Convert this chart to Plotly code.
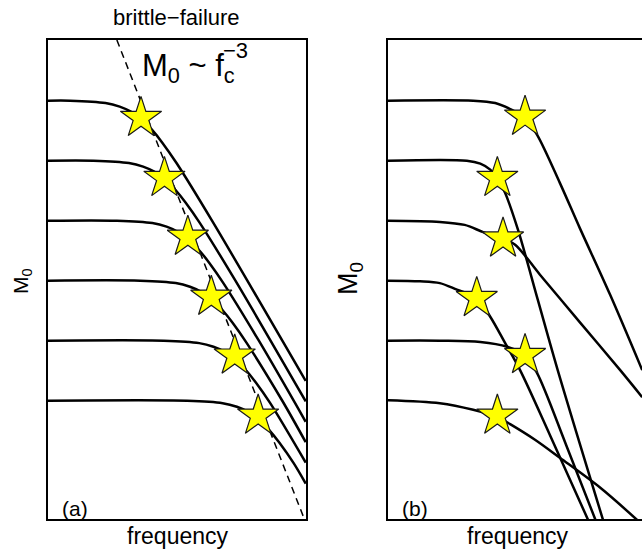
import plotly.graph_objects as go

# ---------------- data (x = log10 frequency, y = log10 M0) ----------------
# panel (a): brittle failure, self-similar spectra
a1_x = [0, 0.31, 0.81, 1.01, 1.16, 1.31, 1.46, 1.61, 1.81, 2.31, 3.63]
a1_y = [7.00, 7.00, 6.96, 6.90, 6.82, 6.70, 6.52, 6.30, 5.96, 5.00, 2.33]
a2_x = [0, 0.64, 1.14, 1.34, 1.49, 1.64, 1.79, 1.94, 2.14, 2.64, 3.63]
a2_y = [6.00, 6.00, 5.96, 5.90, 5.82, 5.70, 5.52, 5.30, 4.96, 4.00, 1.99]
a3_x = [0, 0.97, 1.47, 1.67, 1.82, 1.97, 2.12, 2.27, 2.47, 2.97, 3.63]
a3_y = [5.00, 5.00, 4.96, 4.90, 4.82, 4.70, 4.52, 4.30, 3.96, 3.00, 1.65]
a4_x = [0, 1.30, 1.80, 2.00, 2.15, 2.30, 2.45, 2.60, 2.80, 3.30, 3.63]
a4_y = [4.00, 4.00, 3.96, 3.90, 3.82, 3.70, 3.52, 3.30, 2.96, 2.00, 1.31]
a5_x = [0, 1.63, 2.13, 2.33, 2.48, 2.63, 2.78, 2.93, 3.13, 3.63]
a5_y = [3.00, 3.00, 2.96, 2.90, 2.82, 2.70, 2.52, 2.30, 1.96, 0.97]
a6_x = [0, 1.96, 2.46, 2.66, 2.81, 2.96, 3.11, 3.26, 3.46, 3.63]
a6_y = [2.00, 2.00, 1.96, 1.90, 1.82, 1.70, 1.52, 1.30, 0.96, 0.62]
a_star_x = [1.31, 1.64, 1.97, 2.30, 2.63, 2.96]
a_star_y = [6.71, 5.71, 4.73, 3.73, 2.75, 1.75]
dash_x = [0.97, 3.61]
dash_y = [8.01, 0.03]

# panel (b): scattered corner frequencies and fall-offs
b1_x = [0, 1.20, 1.51, 1.72, 1.93, 2.10, 2.42, 2.70, 3.13, 3.58]
b1_y = [7.00, 7.00, 6.96, 6.86, 6.71, 6.43, 5.63, 4.88, 3.76, 2.51]
b2_x = [0, 1.11, 1.30, 1.44, 1.54, 1.65, 1.83, 2.11, 2.39, 3.05]
b2_y = [6.00, 6.00, 5.95, 5.85, 5.71, 5.46, 4.85, 3.68, 2.51, -0.07]
b3_x = [0, 0.73, 1.08, 1.34, 1.62, 1.79, 2.14, 2.70, 3.27, 3.58]
b3_y = [5.00, 4.98, 4.93, 4.81, 4.70, 4.60, 4.10, 3.31, 2.51, 2.06]
b4_x = [0, 0.45, 0.73, 0.97, 1.25, 1.44, 1.65, 1.86, 2.28, 2.85]
b4_y = [4.00, 3.99, 3.96, 3.85, 3.71, 3.40, 2.96, 2.51, 1.43, -0.07]
b5_x = [0, 0.73, 1.30, 1.68, 1.93, 2.10, 2.51, 2.95]
b5_y = [3.00, 3.00, 2.98, 2.90, 2.76, 2.46, 1.26, -0.07]
b6_x = [0, 0.73, 1.20, 1.54, 1.72, 2.07, 2.42, 2.99, 3.55]
b6_y = [2.01, 1.96, 1.85, 1.73, 1.61, 1.35, 1.05, 0.55, -0.03]
b_star_x = [1.93, 1.54, 1.62, 1.25, 1.93, 1.54]
b_star_y = [6.73, 5.71, 4.70, 3.71, 2.76, 1.75]

# ---------------- figure ----------------
W, H = 642, 550
FONT = "Liberation Sans, Arial, Helvetica, sans-serif"
fig = go.Figure()

line_style = dict(color="black", width=2.5, shape="spline", smoothing=0.9)
star_style = dict(symbol="star", size=31, color="#FFFF00",
                  line=dict(color="#1a1a1a", width=1.2))

fig.add_trace(go.Scatter(x=dash_x, y=dash_y, mode="lines",
                         line=dict(color="black", width=1.5, dash="7px,5px"),
                         xaxis="x", yaxis="y", hoverinfo="skip"))
for xs, ys in [(a1_x, a1_y), (a2_x, a2_y), (a3_x, a3_y),
               (a4_x, a4_y), (a5_x, a5_y), (a6_x, a6_y)]:
    fig.add_trace(go.Scatter(x=xs, y=ys, mode="lines", line=line_style,
                             xaxis="x", yaxis="y", hoverinfo="skip"))
fig.add_trace(go.Scatter(x=a_star_x, y=a_star_y, mode="markers",
                         marker=star_style, xaxis="x", yaxis="y",
                         cliponaxis=False))

for xs, ys in [(b1_x, b1_y), (b2_x, b2_y), (b3_x, b3_y),
               (b4_x, b4_y), (b5_x, b5_y), (b6_x, b6_y)]:
    fig.add_trace(go.Scatter(x=xs, y=ys, mode="lines", line=line_style,
                             xaxis="x2", yaxis="y2", hoverinfo="skip"))
fig.add_trace(go.Scatter(x=b_star_x, y=b_star_y, mode="markers",
                         marker=star_style, xaxis="x2", yaxis="y2",
                         cliponaxis=False))

ax_common = dict(showticklabels=False, ticks="", showgrid=False,
                 zeroline=False, showline=True, linecolor="black",
                 linewidth=1.5, fixedrange=True)
ydom = [31 / H, 510 / H]
fig.update_layout(
    width=W, height=H, margin=dict(l=0, r=0, t=0, b=0),
    paper_bgcolor="white", plot_bgcolor="white", showlegend=False,
    font=dict(family=FONT, color="black"),
    xaxis=dict(domain=[48 / W, 306 / W], range=[0, 3.634], mirror=True,
               anchor="y", **ax_common),
    yaxis=dict(domain=ydom, range=[0.03, 8.01], mirror=True,
               anchor="x", **ax_common),
    xaxis2=dict(domain=[388 / W, 1.0], range=[0, 3.577], mirror=True,
                anchor="y2", **ax_common),
    yaxis2=dict(domain=ydom, range=[0.03, 8.01], mirror=False,
                anchor="x2", **ax_common),
)


def px(x):
    return x / W


def py(y):
    return 1 - y / H


ann = [
    dict(text="brittle−failure", x=px(177), y=py(18), xanchor="center",
         yanchor="middle", font=dict(size=22)),
    dict(text="M<sub>0</sub> ~ f<sub>c</sub>", x=px(140), y=py(68),
         xanchor="left", yanchor="middle", font=dict(size=31)),
    dict(text="−3", x=px(221), y=py(50), xanchor="left", yanchor="middle",
         font=dict(size=22)),
    dict(text="frequency", x=px(177.5), y=py(536), xanchor="center",
         yanchor="middle", font=dict(size=23)),
    dict(text="frequency", x=px(518), y=py(536), xanchor="center",
         yanchor="middle", font=dict(size=23)),
    dict(text="(a)", x=px(60), y=py(508), xanchor="left", yanchor="middle",
         font=dict(size=21)),
    dict(text="(b)", x=px(400), y=py(508), xanchor="left", yanchor="middle",
         font=dict(size=21)),
    dict(text="M<sub>0</sub>", x=px(22), y=py(281), xanchor="center",
         yanchor="middle", textangle=-90, font=dict(size=21)),
    dict(text="M<sub>0</sub>", x=px(350), y=py(278), xanchor="center",
         yanchor="middle", textangle=-90, font=dict(size=27)),
]
for a in ann:
    a.update(xref="paper", yref="paper", showarrow=False)
fig.update_layout(annotations=ann)

fig.write_html("out.html")
